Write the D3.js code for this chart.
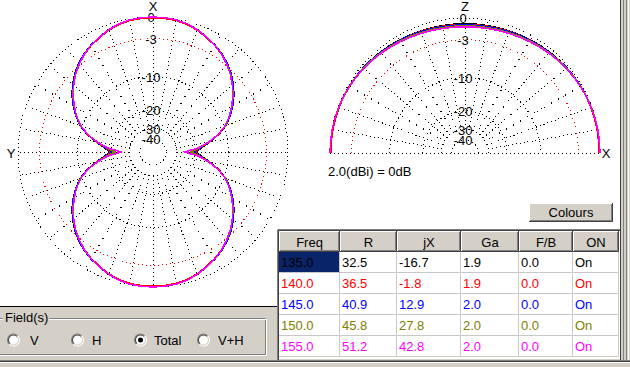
<!DOCTYPE html>
<html>
<head>
<meta charset="utf-8">
<script src="https://cdn.jsdelivr.net/npm/d3@7"></script>
<style>
  body { margin: 0; background: #d4d0c8; }
  svg text { font-family: "Liberation Sans", Arial, sans-serif; font-size: 13px; }
</style>
</head>
<body>
<svg id="chart" width="630" height="367"></svg>
<script>
// ---- data ----
const freqs = ['135.0', '140.0', '145.0', '150.0', '155.0'];
const resR = ['32.5', '36.5', '40.9', '45.8', '51.2'];
const resX = ['-16.7', '-1.8', '12.9', '27.8', '42.8'];
const gainA = ['1.9', '1.9', '2.0', '2.0', '2.0'];
const frontBack = ['0.0', '0.0', '0.0', '0.0', '0.0'];
const onFlags = ['On', 'On', 'On', 'On', 'On'];
const tableHeads = ['Freq', 'R', 'jX', 'Ga', 'F/B', 'ON'];

const ringDb = [0, -3, -10, -20, -30, -40];
const ringLabels = ['0', '-3', '-10', '-20', '-30', '-40'];

// azimuth (X-Y plane), dB vs angle off the X axis, one quadrant (pattern is symmetric)
const azAngles = [0, 5, 10, 15, 20, 25, 30, 35, 40, 45, 50, 55, 60, 65, 70, 75, 80, 85, 90];
const az135 = [-0.1, -0.12, -0.2, -0.4, -0.7, -1.12, -1.56, -2.06, -2.74, -3.48, -4.38, -5.42, -6.6, -7.9, -9.5, -11.7, -14.6, -17.4, -19.6];
const az140 = [-0.1, -0.12, -0.2, -0.4, -0.71, -1.14, -1.58, -2.1, -2.8, -3.54, -4.44, -5.48, -6.66, -7.96, -9.56, -11.76, -14.7, -17.7, -20.2];
const az145 = [0, -0.02, -0.1, -0.3, -0.62, -1.05, -1.5, -2.0, -2.65, -3.4, -4.3, -5.35, -6.55, -7.9, -9.55, -11.8, -14.8, -17.9, -20.8];
const az150 = [0, -0.02, -0.1, -0.3, -0.64, -1.08, -1.53, -2.07, -2.77, -3.55, -4.5, -5.55, -6.75, -8.05, -9.65, -11.85, -14.9, -18.3, -21.8];
const az155 = [0, -0.02, -0.1, -0.3, -0.65, -1.1, -1.55, -2.1, -2.8, -3.6, -4.55, -5.6, -6.8, -8.1, -9.7, -11.9, -15.0, -18.8, -25.0];

// elevation (X-Z plane), dB vs angle above the horizon, one side (symmetric)
const elAngles = [0, 10, 20, 30, 40, 50, 60, 70, 80, 90];
const el135 = [-0.1, -0.1, -0.13, -0.2, -0.3, -0.42, -0.55, -0.66, -0.73, -0.75];
const el140 = [-0.1, -0.11, -0.14, -0.22, -0.33, -0.46, -0.6, -0.72, -0.8, -0.83];
const el145 = [0, -0.02, -0.07, -0.16, -0.29, -0.45, -0.62, -0.77, -0.87, -0.9];
const el150 = [0, -0.02, -0.08, -0.19, -0.34, -0.52, -0.71, -0.88, -0.99, -1.03];
const el155 = [0, -0.02, -0.1, -0.22, -0.4, -0.6, -0.82, -1.0, -1.12, -1.16];

const fieldOptions = ['V', 'H', 'Total', 'V+H'];
const fieldSelected = 'Total';

const azSeries = [az135, az140, az145, az150, az155];
const elSeries = [el135, el140, el145, el150, el155];
const seriesColors = ['#000000', '#ff0000', '#0000ff', '#808000', '#ff00ff'];

// ---- setup ----
const svg = d3.select('#chart');
const R = 135;
// ARRL log scale: radius ~ (power ratio)^0.253
const rScale = d3.scalePow().exponent(0.253).domain([0, 1]).range([0, R]);
const dbR = db => rScale(Math.pow(10, db / 10));
const rad = d => d * Math.PI / 180;

// plot backgrounds
svg.append('rect').attr('x', 0).attr('y', 0).attr('width', 620).attr('height', 306).attr('fill', '#fff');
svg.append('line').attr('x1', 0).attr('x2', 277).attr('y1', 306.5).attr('y2', 306.5).attr('stroke', '#000');

function grid(g, half) {
  const spokes = half ? d3.range(10, 180, 10) : d3.range(0, 360, 10);
  g.selectAll('line.spoke').data(spokes).join('line')
    .attr('x1', a => dbR(-30) * Math.cos(rad(a))).attr('y1', a => -dbR(-30) * Math.sin(rad(a)))
    .attr('x2', a => R * Math.cos(rad(a))).attr('y2', a => -R * Math.sin(rad(a)))
    .attr('stroke', '#000').attr('stroke-dasharray', '1,3').attr('shape-rendering', 'crispEdges');
  if (half) {
    g.append('line').attr('x1', -R).attr('x2', R).attr('y1', 0).attr('y2', 0)
      .attr('stroke', '#000').attr('stroke-dasharray', '1,3').attr('shape-rendering', 'crispEdges');
    g.selectAll('path.ring').data(ringDb).join('path')
      .attr('d', d => `M${-dbR(d)},0A${dbR(d)},${dbR(d)} 0 0 1 ${dbR(d)},0`)
      .attr('fill', 'none').attr('stroke', d => d === -3 ? '#ff0000' : '#000')
      .attr('stroke-dasharray', '1,3').attr('shape-rendering', 'crispEdges');
  } else {
    g.selectAll('circle.ring').data(ringDb).join('circle')
      .attr('r', d => dbR(d))
      .attr('fill', 'none').attr('stroke', d => d === -3 ? '#ff0000' : '#000')
      .attr('stroke-dasharray', '1,3').attr('shape-rendering', 'crispEdges');
  }
  g.selectAll('text.rl').data(ringDb).join('text')
    .attr('x', -2).attr('y', d => -dbR(d) + 5)
    .attr('text-anchor', 'middle').attr('fill', '#000')
    .text((d, i) => ringLabels[i]);
}

// ---- left: azimuth ----
const gA = svg.append('g').attr('transform', 'translate(153,152)');
grid(gA, false);
const foldAz = deg => (deg <= 90 ? deg : deg <= 180 ? 180 - deg : deg <= 270 ? deg - 180 : 360 - deg);
const azLine = d3.lineRadial().curve(d3.curveLinearClosed)
  .angle(d => rad(d[0])).radius(d => dbR(d[1]));
azSeries.forEach((s, i) => {
  const pts = d3.range(0, 360, 5).map(a => [a, s[azAngles.indexOf(foldAz(a))]]);
  gA.append('path').attr('d', azLine(pts)).attr('fill', 'none')
    .attr('stroke', seriesColors[i]).attr('stroke-width', 1.5).attr('shape-rendering', 'crispEdges');
});
svg.append('text').attr('x', 153).attr('y', 11).attr('text-anchor', 'middle').attr('font-size', 12).text('X');
svg.append('text').attr('x', 11).attr('y', 158).attr('text-anchor', 'middle').attr('font-size', 12).text('Y');

// ---- right: elevation ----
const gE = svg.append('g').attr('transform', 'translate(465,153)');
grid(gE, true);
const elLine = d3.lineRadial().curve(d3.curveCardinal)
  .angle(d => rad(90 - d[0])).radius(d => dbR(d[1]));
elSeries.forEach((s, i) => {
  const pts = d3.range(0, 181, 10).map(e => [e, s[elAngles.indexOf(e <= 90 ? e : 180 - e)]]);
  gE.append('path').attr('d', elLine(pts)).attr('fill', 'none')
    .attr('stroke', seriesColors[i]).attr('stroke-width', 1.5).attr('shape-rendering', 'crispEdges');
});
svg.append('text').attr('x', 465).attr('y', 11).attr('text-anchor', 'middle').attr('font-size', 12).text('Z');
svg.append('text').attr('x', 606).attr('y', 158).attr('text-anchor', 'middle').attr('font-size', 12).text('X');
svg.append('text').attr('x', 328).attr('y', 176).text('2.0(dBi) = 0dB');

// ---- Colours button ----
const btn = svg.append('g').attr('transform', 'translate(529,203)');
btn.append('rect').attr('width', 84).attr('height', 19).attr('fill', '#d4d0c8');
btn.append('path').attr('d', 'M0.5,18.5V0.5H83.5').attr('fill', 'none').attr('stroke', '#fff');
btn.append('path').attr('d', 'M0,18.5H83.5V0').attr('fill', 'none').attr('stroke', '#404040');
btn.append('path').attr('d', 'M1,17.5H82.5V1').attr('fill', 'none').attr('stroke', '#808080');
btn.append('text').attr('x', 42).attr('y', 14).attr('text-anchor', 'middle').text('Colours');

// ---- right frame ----
svg.append('rect').attr('x', 620).attr('y', 0).attr('width', 10).attr('height', 367).attr('fill', '#d4d0c8');
[[620.5, '#404040'], [623.5, '#808080'], [626.5, '#808080'], [628.5, '#ffffff']].forEach(([x, c]) =>
  svg.append('line').attr('x1', x).attr('x2', x).attr('y1', 0).attr('y2', 360).attr('stroke', c));

// ---- table ----
const colX = [279, 340, 397, 461, 519, 573, 619];
const headTop = 231, rowH = 21;
const tb = svg.append('g');
tb.append('rect').attr('x', 277).attr('y', 229).attr('width', 343).attr('height', 130).attr('fill', '#fff');
tb.append('path').attr('d', 'M277.5,360V229.5H620').attr('fill', 'none').attr('stroke', '#808080');
tb.append('path').attr('d', 'M278.5,360V230.5H620').attr('fill', 'none').attr('stroke', '#404040');

tableHeads.forEach((h, c) => {
  const x0 = colX[c], x1 = colX[c + 1];
  tb.append('rect').attr('x', x0).attr('y', headTop).attr('width', x1 - x0).attr('height', rowH).attr('fill', '#d4d0c8');
  tb.append('path').attr('d', `M${x0 + 0.5},${headTop + rowH}V${headTop + 0.5}H${x1}`).attr('fill', 'none').attr('stroke', '#fff');
  tb.append('path').attr('d', `M${x0},${headTop + rowH - 0.5}H${x1 - 0.5}V${headTop}`).attr('fill', 'none').attr('stroke', '#404040');
  tb.append('path').attr('d', `M${x0 + 1},${headTop + rowH - 1.5}H${x1 - 1.5}V${headTop + 1}`).attr('fill', 'none').attr('stroke', '#808080');
  tb.append('text').attr('x', (x0 + x1) / 2).attr('y', headTop + 15.5).attr('text-anchor', 'middle').text(h);
});

const rows = freqs.map((f, i) => [f, resR[i], resX[i], gainA[i], frontBack[i], onFlags[i]]);
rows.forEach((row, r) => {
  const y0 = headTop + rowH * (r + 1);
  row.forEach((v, c) => {
    const x0 = colX[c], x1 = colX[c + 1];
    tb.append('rect').attr('x', x0).attr('y', y0).attr('width', x1 - x0).attr('height', rowH)
      .attr('fill', r === 0 && c === 0 ? '#0a246a' : '#fff');
    tb.append('path').attr('d', `M${x0},${y0 + rowH - 0.5}H${x1 - 0.5}V${y0}`).attr('fill', 'none').attr('stroke', '#c8c8c8');
    tb.append('text').attr('x', x0 + 2).attr('y', y0 + 15).attr('fill', seriesColors[r]).text(v);
  });
});

// ---- bottom frame ----
svg.append('line').attr('x1', 0).attr('x2', 630).attr('y1', 360.5).attr('y2', 360.5).attr('stroke', '#808080');
svg.append('line').attr('x1', 0).attr('x2', 630).attr('y1', 361.5).attr('y2', 361.5).attr('stroke', '#404040');
svg.append('line').attr('x1', 0).attr('x2', 630).attr('y1', 362.5).attr('y2', 362.5).attr('stroke', '#ffffff');

// ---- Field(s) group ----
const fg = svg.append('g');
fg.append('rect').attr('x', -3.5).attr('y', 318.5).attr('width', 269).attr('height', 36).attr('fill', 'none').attr('stroke', '#808080');
fg.append('rect').attr('x', -2.5).attr('y', 319.5).attr('width', 269).attr('height', 36).attr('fill', 'none').attr('stroke', '#ffffff');
fg.append('rect').attr('x', 3).attr('y', 312).attr('width', 46).attr('height', 12).attr('fill', '#d4d0c8');
fg.append('text').attr('x', 5).attr('y', 322).text('Field(s)');

const radioX = [13.5, 77.5, 140.5, 203.5];
const labelX = [30, 92, 154, 218];
const arcTL = (r0, r1) => d3.arc()({ innerRadius: r0, outerRadius: r1, startAngle: -3 * Math.PI / 4, endAngle: Math.PI / 4 });
const arcBR = (r0, r1) => d3.arc()({ innerRadius: r0, outerRadius: r1, startAngle: Math.PI / 4, endAngle: 5 * Math.PI / 4 });
fieldOptions.forEach((opt, i) => {
  const rg = fg.append('g').attr('transform', `translate(${radioX[i]},340)`);
  rg.append('circle').attr('r', 5.5).attr('fill', '#fff');
  rg.append('path').attr('d', arcTL(5.5, 6.5)).attr('fill', '#808080');
  rg.append('path').attr('d', arcBR(5.5, 6.5)).attr('fill', '#ffffff');
  rg.append('path').attr('d', arcTL(4.5, 5.5)).attr('fill', '#404040');
  rg.append('path').attr('d', arcBR(4.5, 5.5)).attr('fill', '#d4d0c8');
  if (opt === fieldSelected) rg.append('circle').attr('r', 2.5).attr('fill', '#000');
  fg.append('text').attr('x', labelX[i]).attr('y', 344.5).text(opt);
});
</script>
</body>
</html>
